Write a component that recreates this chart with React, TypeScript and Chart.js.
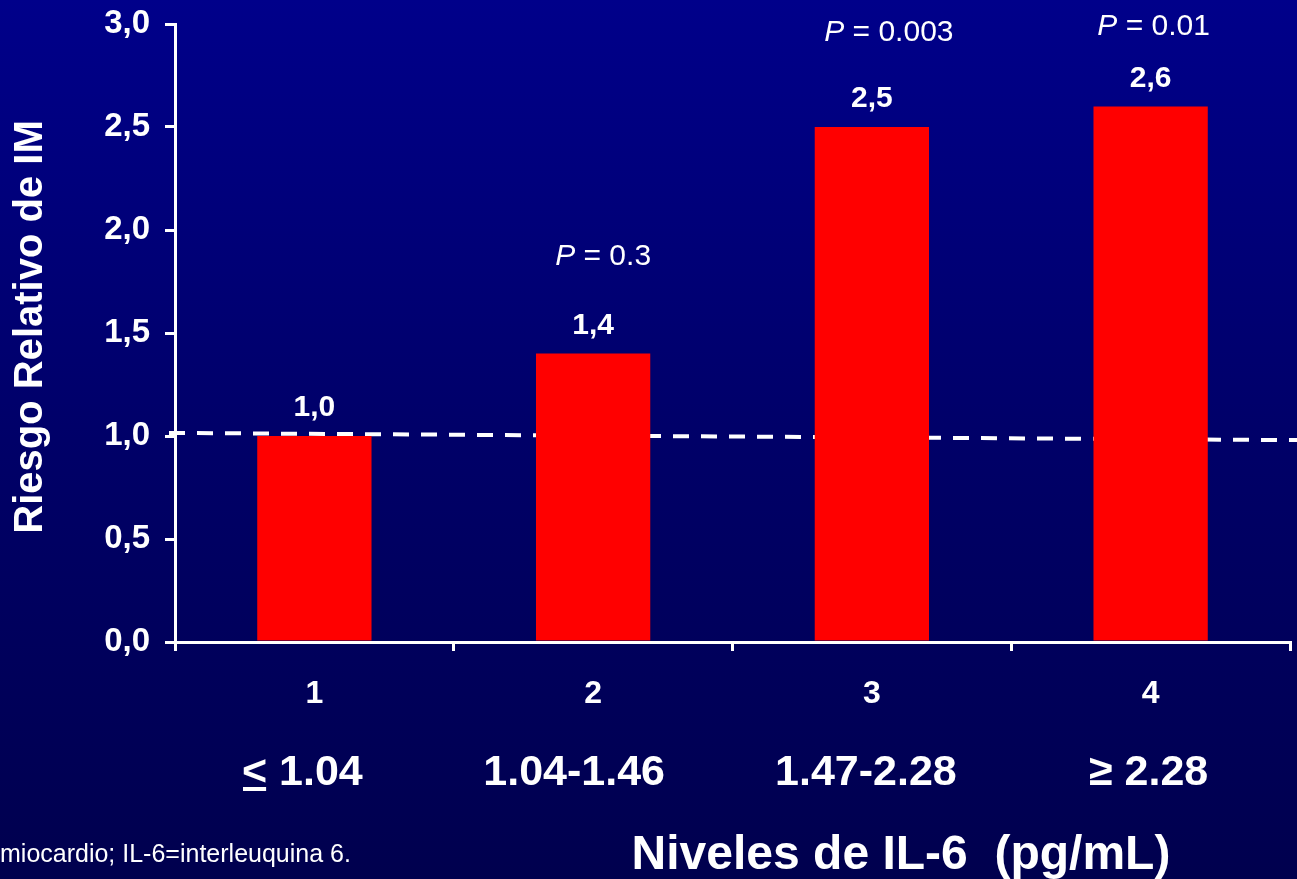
import React, { useEffect, useRef } from "react";
import { Chart, registerables } from "chart.js";

Chart.register(...registerables);

// ---- data ----
const CATEGORIES = ["1", "2", "3", "4"];
const RELATIVE_RISK = [1.0, 1.4, 2.5, 2.6];
const RANGE_LABELS = ["≤ 1.04", "1.04-1.46", "1.47-2.28", "≥ 2.28"];
const P_VALUES = ["", "0.3", "0.003", "0.01"];
const Y_MIN = 0;
const Y_MAX = 3;
const Y_STEP = 0.5;
const REF_LINE = [1.015, 0.98]; // reference (dashed) line value at left / right end
const Y_TITLE = "Riesgo Relativo de IM";
const X_TITLE = "Niveles de IL-6  (pg/mL)";
const FOOTNOTE = "miocardio; IL-6=interleuquina 6.";

// ---- style ----
const W = 1297;
const H = 879;
const FONT = "'Liberation Sans', Arial, Helvetica, sans-serif";
const WHITE = "#ffffff";
const BAR_COLOR = "#ff0000";
const P_LABEL_OFFSETS = [
  { dx: 0, dy: 0 },
  { dx: 10, dy: -97 },
  { dx: 17, dy: -94 },
  { dx: 3, dy: -80 },
];
const RANGE_DX = [-12, -19, -6, -2];

const fmt = (v: number) => v.toFixed(1).replace(".", ",");

const overlayPlugin = {
  id: "overlay",
  beforeDatasetsDraw(chart: any) {
    const { ctx, chartArea, scales } = chart;
    const y = scales.y;
    ctx.save();
    ctx.strokeStyle = WHITE;
    ctx.lineWidth = 4;
    ctx.setLineDash([16, 12]);
    ctx.beginPath();
    ctx.moveTo(chartArea.left - 6, y.getPixelForValue(REF_LINE[0]));
    ctx.lineTo(W, y.getPixelForValue(REF_LINE[1]));
    ctx.stroke();
    ctx.restore();
  },
  afterDraw(chart: any) {
    const { ctx, scales } = chart;
    const x = scales.x;
    const y = scales.y;
    ctx.save();
    ctx.fillStyle = WHITE;

    const meta = chart.getDatasetMeta(0);
    // value labels and P labels
    RELATIVE_RISK.forEach((v, i) => {
      const bar = meta.data[i];
      const cx = bar.x;
      const top = y.getPixelForValue(v);
      ctx.font = `bold 30px ${FONT}`;
      ctx.textAlign = "center";
      ctx.textBaseline = "middle";
      ctx.fillText(fmt(v), cx, top - 28);

      const p = P_VALUES[i];
      if (p) {
        const off = P_LABEL_OFFSETS[i];
        const italic = `italic 30px ${FONT}`;
        const normal = `30px ${FONT}`;
        const rest = " = " + p;
        ctx.font = italic;
        const w1 = ctx.measureText("P").width;
        ctx.font = normal;
        const w2 = ctx.measureText(rest).width;
        const startX = cx + off.dx - (w1 + w2) / 2;
        const py = top + off.dy;
        ctx.textAlign = "left";
        ctx.font = italic;
        ctx.fillText("P", startX, py);
        ctx.font = normal;
        ctx.fillText(rest, startX + w1, py);
      }
    });

    // range labels
    ctx.font = `bold 43px ${FONT}`;
    ctx.textBaseline = "alphabetic";
    RANGE_LABELS.forEach((lab, i) => {
      const cx = x.getPixelForValue(i) + RANGE_DX[i];
      const baseY = 785;
      if (lab.startsWith("≤")) {
        const txt = "<" + lab.slice(1);
        const w = ctx.measureText(txt).width;
        const wl = ctx.measureText("<").width;
        const sx = cx - w / 2;
        ctx.textAlign = "left";
        ctx.fillText(txt, sx, baseY);
        ctx.fillRect(sx + 1, baseY + 2, wl - 2, 4);
      } else {
        ctx.textAlign = "center";
        ctx.fillText(lab, cx, baseY);
      }
    });

    // x title
    ctx.font = `bold 48px ${FONT}`;
    ctx.textAlign = "center";
    ctx.fillText(X_TITLE, 901, 869);

    // footnote
    ctx.font = `25px ${FONT}`;
    ctx.textAlign = "left";
    ctx.fillText(FOOTNOTE, 0, 862);

    // y title
    ctx.save();
    ctx.translate(42, 327);
    ctx.rotate(-Math.PI / 2);
    ctx.font = `bold 40px ${FONT}`;
    ctx.textAlign = "center";
    ctx.textBaseline = "alphabetic";
    ctx.fillText(Y_TITLE, 0, 0);
    ctx.restore();

    ctx.restore();
  },
};

export default function App() {
  const ref = useRef<HTMLCanvasElement | null>(null);

  useEffect(() => {
    document.body.style.margin = "0";
    const canvas = ref.current;
    if (!canvas) return;
    const chart = new Chart(canvas, {
      type: "bar",
      data: {
        labels: CATEGORIES,
        datasets: [
          {
            data: RELATIVE_RISK,
            backgroundColor: BAR_COLOR,
            borderWidth: 0,
            categoryPercentage: 1,
            barPercentage: 0.41,
          },
        ],
      },
      options: {
        responsive: false,
        animation: false,
        devicePixelRatio: 1,
        layout: { padding: { left: 0, top: 24, right: 7, bottom: 0 } },
        plugins: {
          legend: { display: false },
          tooltip: { enabled: false },
          title: { display: false },
        },
        scales: {
          x: {
            type: "category",
            offset: true,
            grid: {
              offset: true,
              drawOnChartArea: false,
              drawTicks: true,
              tickLength: 9,
              color: WHITE,
              lineWidth: 3,
            },
            border: { display: true, color: WHITE, width: 3 },
            ticks: {
              color: WHITE,
              font: { family: FONT, size: 32, weight: "bold" },
              padding: 24,
              maxRotation: 0,
            },
            afterFit: (s: any) => {
              s.height = H - 642;
              s.paddingLeft = 0;
              s.paddingRight = 0;
            },
          },
          y: {
            min: Y_MIN,
            max: Y_MAX,
            grid: {
              drawOnChartArea: false,
              drawTicks: true,
              tickLength: 10,
              color: WHITE,
              lineWidth: 3,
            },
            border: { display: true, color: WHITE, width: 3 },
            ticks: {
              stepSize: Y_STEP,
              color: WHITE,
              font: { family: FONT, size: 33, weight: "bold" },
              padding: 15,
              callback: (v: any) => fmt(Number(v)),
            },
            afterFit: (s: any) => {
              s.width = 175;
              s.paddingTop = 0;
              s.paddingBottom = 0;
            },
          },
        },
      },
      plugins: [overlayPlugin],
    });
    return () => chart.destroy();
  }, []);

  return (
    <div
      style={{
        position: "fixed",
        left: 0,
        top: 0,
        width: W,
        height: H,
        background: "linear-gradient(to bottom, #00008a 0%, #000068 50%, #00004e 100%)",
        overflow: "hidden",
      }}
    >
      <canvas ref={ref} width={W} height={H} style={{ display: "block" }} />
    </div>
  );
}
